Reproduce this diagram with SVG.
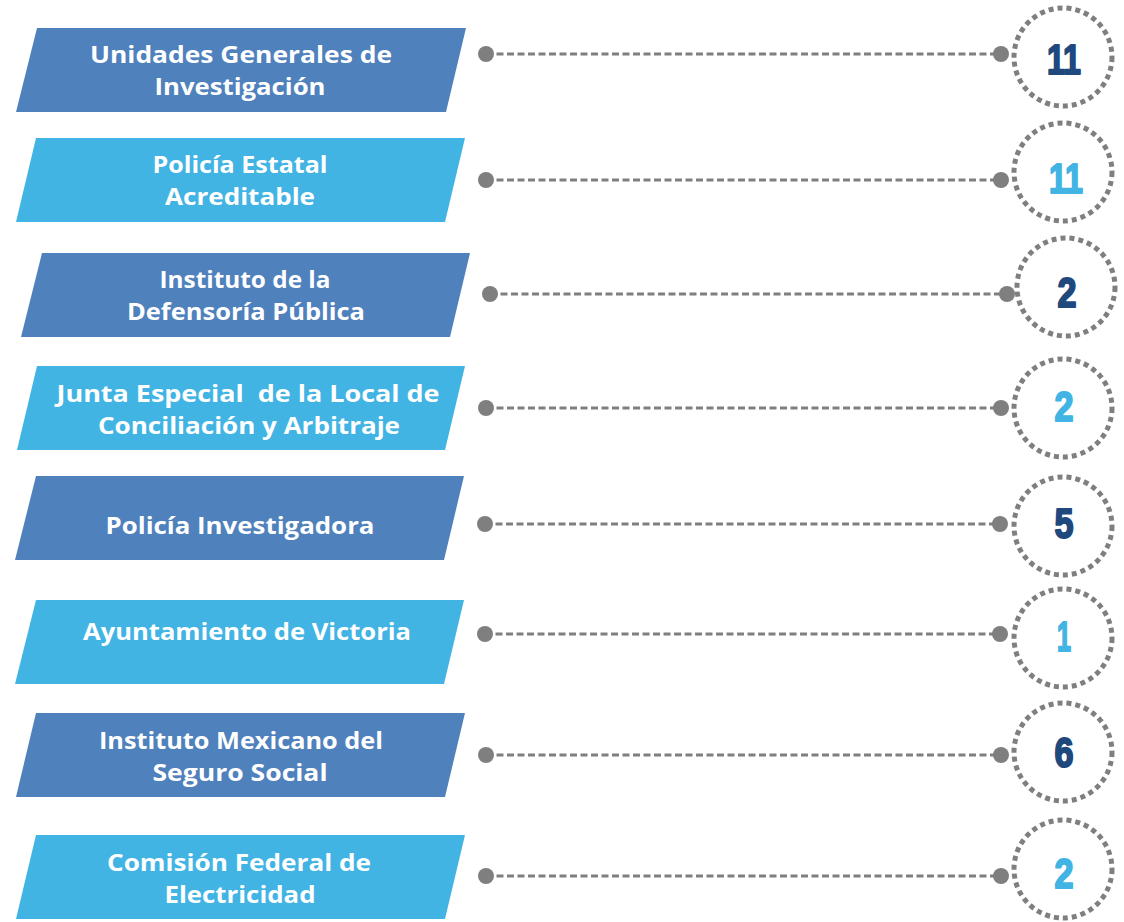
<svg xmlns="http://www.w3.org/2000/svg" width="1124" height="922" viewBox="0 0 1124 922">
<style>
.dark{fill:#4f81bd}
.light{fill:#41b4e4}
.lbl{font-family:"Open Sans","Liberation Sans",sans-serif;font-weight:700;font-size:24px;fill:#ffffff;text-anchor:middle}
.num{font-family:"Liberation Sans",Arial,sans-serif;font-weight:700;font-size:42px;text-anchor:middle;stroke-width:2;stroke-linejoin:round}
.nd{fill:#1f497d;stroke:#1f497d}
.nl{fill:#41b4e4;stroke:#41b4e4}
.ring{fill:none;stroke:#7f7f7f;stroke-width:5;stroke-dasharray:5 4}
.link{stroke:#7f7f7f;stroke-width:3;stroke-dasharray:7 3.5;fill:none}
.dot{fill:#7f7f7f}
</style>
<rect width="1124" height="922" fill="#ffffff"/>
<g id="connectors">
<line class="link" x1="486" y1="54" x2="1001" y2="54"/>
<circle class="dot" cx="486" cy="54" r="8"/><circle class="dot" cx="1001" cy="54" r="8"/>
<line class="link" x1="486" y1="180" x2="1001" y2="180"/>
<circle class="dot" cx="486" cy="180" r="8"/><circle class="dot" cx="1001" cy="180" r="8"/>
<line class="link" x1="490" y1="294" x2="1007" y2="294"/>
<circle class="dot" cx="490" cy="294" r="8"/><circle class="dot" cx="1007" cy="294" r="8"/>
<line class="link" x1="486" y1="408" x2="1001" y2="408"/>
<circle class="dot" cx="486" cy="408" r="8"/><circle class="dot" cx="1001" cy="408" r="8"/>
<line class="link" x1="485" y1="524" x2="1000" y2="524"/>
<circle class="dot" cx="485" cy="524" r="8"/><circle class="dot" cx="1000" cy="524" r="8"/>
<line class="link" x1="485" y1="634" x2="1000" y2="634"/>
<circle class="dot" cx="485" cy="634" r="8"/><circle class="dot" cx="1000" cy="634" r="8"/>
<line class="link" x1="486" y1="755" x2="1001" y2="755"/>
<circle class="dot" cx="486" cy="755" r="8"/><circle class="dot" cx="1001" cy="755" r="8"/>
<line class="link" x1="486" y1="876" x2="1001" y2="876"/>
<circle class="dot" cx="486" cy="876" r="8"/><circle class="dot" cx="1001" cy="876" r="8"/>
</g>
<g id="node1">
<polygon class="dark" points="37,28 466,28 446,112 16,112"/>
<text class="lbl" x="241" y="63" textLength="302" lengthAdjust="spacingAndGlyphs">Unidades Generales de</text>
<text class="lbl" x="240" y="95" textLength="171" lengthAdjust="spacingAndGlyphs">Investigación</text>
</g>
<g id="node2">
<polygon class="light" points="36,138 465,138 445,222 16,222"/>
<text class="lbl" x="240" y="173" textLength="175" lengthAdjust="spacingAndGlyphs">Policía Estatal</text>
<text class="lbl" x="240" y="205" textLength="150" lengthAdjust="spacingAndGlyphs">Acreditable</text>
</g>
<g id="node3">
<polygon class="dark" points="42,253 470,253 450,337 21,337"/>
<text class="lbl" x="245" y="288" textLength="171" lengthAdjust="spacingAndGlyphs">Instituto de la</text>
<text class="lbl" x="246" y="320" textLength="238" lengthAdjust="spacingAndGlyphs">Defensoría Pública</text>
</g>
<g id="node4">
<polygon class="light" points="37,366 465,366 445,450 17,450"/>
<text class="lbl" x="248" y="402" textLength="383" lengthAdjust="spacingAndGlyphs" xml:space="preserve">Junta Especial  de la Local de</text>
<text class="lbl" x="249" y="434" textLength="302" lengthAdjust="spacingAndGlyphs">Conciliación y Arbitraje</text>
</g>
<g id="node5">
<polygon class="dark" points="36,476 464,476 444,560 15,560"/>
<text class="lbl" x="240" y="534" textLength="269" lengthAdjust="spacingAndGlyphs">Policía Investigadora</text>
</g>
<g id="node6">
<polygon class="light" points="36,600 464,600 444,684 15,684"/>
<text class="lbl" x="247" y="640" textLength="328" lengthAdjust="spacingAndGlyphs">Ayuntamiento de Victoria</text>
</g>
<g id="node7">
<polygon class="dark" points="36,713 465,713 445,797 16,797"/>
<text class="lbl" x="241" y="749" textLength="284" lengthAdjust="spacingAndGlyphs">Instituto Mexicano del</text>
<text class="lbl" x="240" y="781" textLength="175" lengthAdjust="spacingAndGlyphs">Seguro Social</text>
</g>
<g id="node8">
<polygon class="light" points="36,835 465,835 445,919 16,919"/>
<text class="lbl" x="239" y="871" textLength="264" lengthAdjust="spacingAndGlyphs">Comisión Federal de</text>
<text class="lbl" x="240" y="903" textLength="151" lengthAdjust="spacingAndGlyphs">Electricidad</text>
</g>
<g id="count1"><circle class="ring" cx="1063" cy="57" r="49"/><text class="num nd" x="1064" y="74" textLength="34" lengthAdjust="spacingAndGlyphs">11</text></g>
<g id="count2"><circle class="ring" cx="1063" cy="172" r="49"/><text class="num nl" x="1066" y="193" textLength="34" lengthAdjust="spacingAndGlyphs">11</text></g>
<g id="count3"><circle class="ring" cx="1066" cy="287" r="49"/><text class="num nd" x="1067" y="307" textLength="19" lengthAdjust="spacingAndGlyphs">2</text></g>
<g id="count4"><circle class="ring" cx="1063" cy="408" r="49"/><text class="num nl" x="1064" y="421" textLength="19" lengthAdjust="spacingAndGlyphs">2</text></g>
<g id="count5"><circle class="ring" cx="1063" cy="526" r="49"/><text class="num nd" x="1064" y="538" textLength="19" lengthAdjust="spacingAndGlyphs">5</text></g>
<g id="count6"><circle class="ring" cx="1063" cy="638" r="49"/><text class="num nl" x="1064" y="651" textLength="14" lengthAdjust="spacingAndGlyphs">1</text></g>
<g id="count7"><circle class="ring" cx="1063" cy="752" r="49"/><text class="num nd" x="1064" y="767" textLength="19" lengthAdjust="spacingAndGlyphs">6</text></g>
<g id="count8"><circle class="ring" cx="1063" cy="869" r="49"/><text class="num nl" x="1064" y="888" textLength="19" lengthAdjust="spacingAndGlyphs">2</text></g>
</svg>
